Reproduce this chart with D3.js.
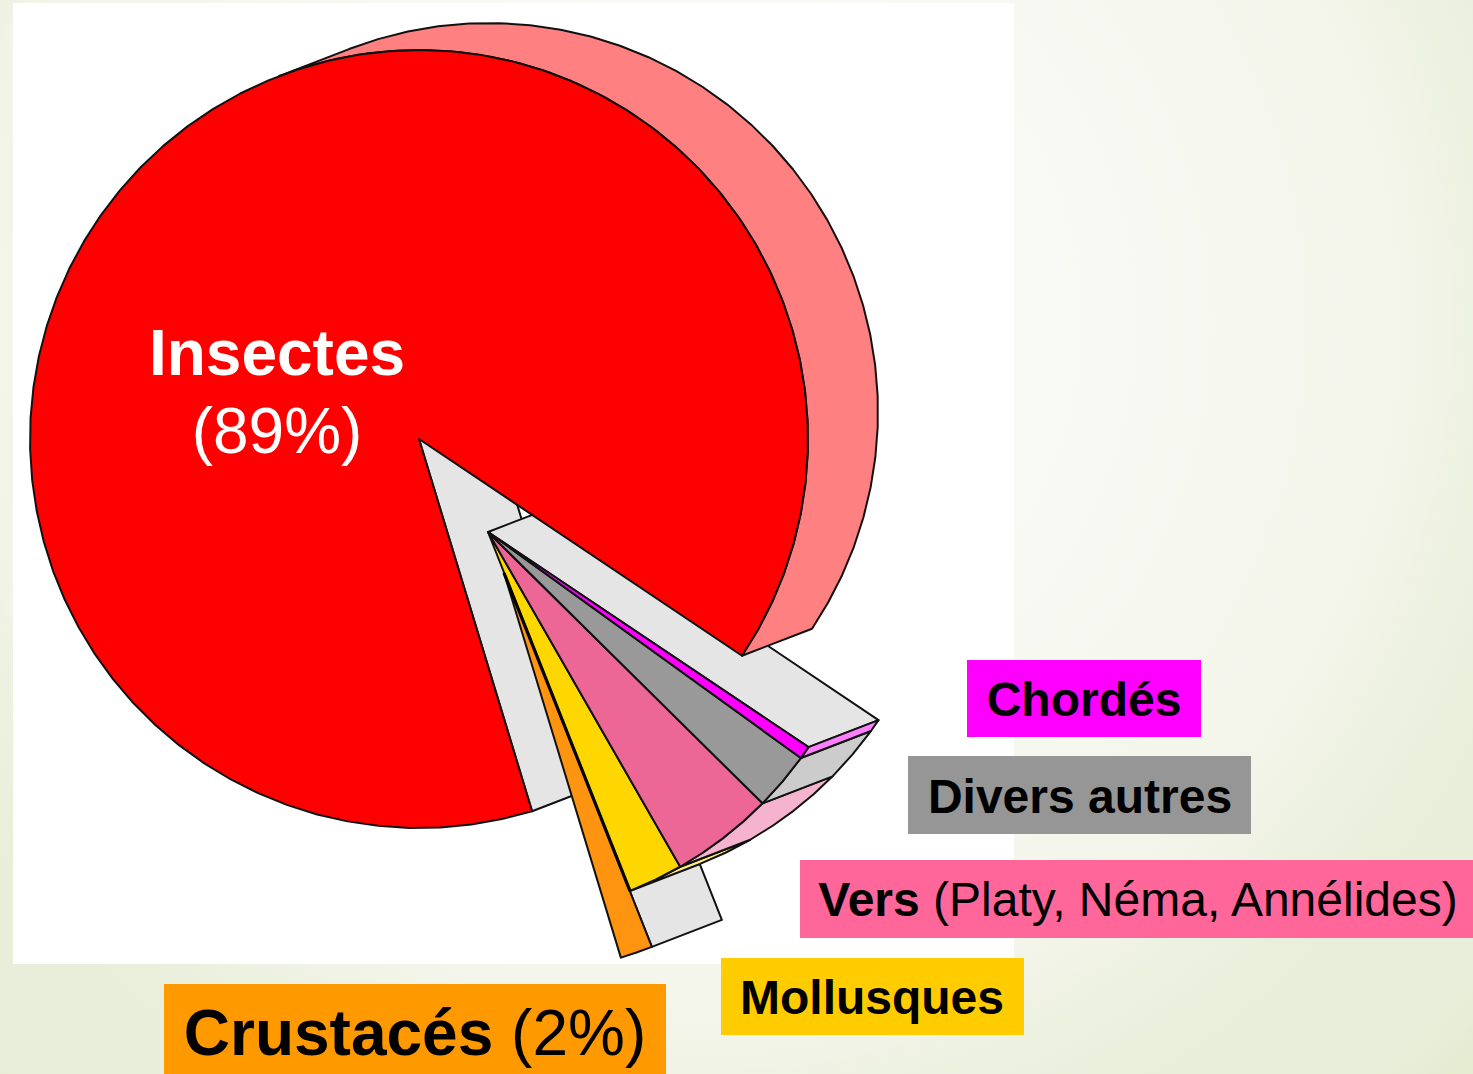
<!DOCTYPE html>
<html>
<head>
<meta charset="utf-8">
<script src="https://cdn.jsdelivr.net/npm/d3@7"></script>
<style>
  html, body { margin: 0; padding: 0; background: #eef2e2; }
  svg { display: block; }
  text { font-family: "Liberation Sans", Arial, sans-serif; }
</style>
</head>
<body>
<svg id="chart" width="1473" height="1074"></svg>
<script>
// values (percent of the pie)
const groups = ["Insectes", "Chordés", "Divers autres", "Vers", "Mollusques", "Crustacés"];
const shares = [89.1, 0.55, 2.45, 4.3, 2.3, 1.3];
const faceColors = ["#ff0000", "#ff00ff", "#999999", "#ec6696", "#ffd700", "#ff9410"];
const wallColors = ["#ff8080", "#ff80ff", "#cccccc", "#f6b3cd", "#ffeb80", "#ffc987"];

const width = 1473, height = 1074;
const svg = d3.select("#chart");

// page background
const defs = svg.append("defs");
const bg = defs.append("radialGradient").attr("id", "bg")
  .attr("gradientUnits", "userSpaceOnUse")
  .attr("cx", 700).attr("cy", 320).attr("r", 1100);
bg.append("stop").attr("offset", "30%").attr("stop-color", "#f9faf5");
bg.append("stop").attr("offset", "64%").attr("stop-color", "#f3f5ea");
bg.append("stop").attr("offset", "72%").attr("stop-color", "#edf1e0");
bg.append("stop").attr("offset", "80%").attr("stop-color", "#e9eeda");
bg.append("stop").attr("offset", "92%").attr("stop-color", "#e9eeda");
bg.append("stop").attr("offset", "100%").attr("stop-color", "#e2eacc");
svg.append("rect").attr("width", width).attr("height", height).attr("fill", "url(#bg)");
svg.append("rect").attr("x", 13).attr("y", 3).attr("width", 1001).attr("height", 961).attr("fill", "#fff");

// pie geometry
const radius = 389;
const groupRadius = 386;
const crustRadius = 402;
const depth = [70, -27];
const centers = {
  main: [419, 439],
  group: [488, 532],
  crust: [504, 573]
};
const startDeg = 163.1;

const pie = d3.pie().sort(null)
  .startAngle(startDeg * Math.PI / 180)
  .endAngle((startDeg + 360) * Math.PI / 180);
const slices = pie(shares).map((d, i) => ({
  ...d,
  name: groups[i],
  face: faceColors[i],
  wall: wallColors[i],
  c: i === 0 ? centers.main : i === 5 ? centers.crust : centers.group,
  r: i === 0 ? radius : i === 5 ? crustRadius : groupRadius
}));

const line = d3.line();
const pt = (c, r, a) => [c[0] + r * Math.sin(a), c[1] - r * Math.cos(a)];
const shift = p => [p[0] + depth[0], p[1] + depth[1]];

function arcPts(s, a0, a1) {
  const n = Math.max(1, Math.ceil((a1 - a0) / 0.08));
  return d3.range(n + 1).map(k => pt(s.c, s.r, a0 + (a1 - a0) * k / n));
}

function drawPoly(points, fill) {
  svg.append("path")
    .attr("d", line(points) + "Z")
    .attr("fill", fill)
    .attr("stroke", "#111")
    .attr("stroke-width", 2)
    .attr("stroke-linejoin", "round");
}

// flat side wall along one cut of a slice
function cutWall(s, a) {
  const rim = pt(s.c, s.r, a);
  drawPoly([s.c, rim, shift(rim), shift(s.c)], "#e5e5e5");
}

// only the part of the outer wall facing the viewer
function outerWall(s) {
  const limit = Math.atan2(depth[0], -depth[1]) + Math.PI / 2; // silhouette angle
  let a0 = s.startAngle, a1 = s.endAngle;
  if (a0 > limit && a1 > limit + Math.PI) a0 = Math.max(a0, limit + Math.PI);
  else a1 = Math.min(a1, limit);
  if (a1 <= a0) return;
  const front = arcPts(s, a0, a1);
  drawPoly(front.concat(front.map(shift).reverse()), s.wall);
}

function face(s) {
  drawPoly([s.c].concat(arcPts(s, s.startAngle, s.endAngle)), s.face);
}

const [insects, chordes, divers, vers, mollusques, crustaces] = slices;

// back to front
cutWall(crustaces, crustaces.startAngle);
cutWall(insects, insects.startAngle);
cutWall(chordes, chordes.startAngle);
outerWall(insects);
face(insects);
face(crustaces);
[mollusques, vers, divers, chordes].forEach(outerWall);
[mollusques, vers, divers, chordes].forEach(face);

// the orange and yellow cuts nearly coincide, so the outline reads heavier there
svg.append("path")
  .attr("d", line([crustaces.c, pt(mollusques.c, mollusques.r, mollusques.endAngle)]))
  .attr("stroke", "#000")
  .attr("stroke-width", 3.2);

// labels on coloured boxes
const labelRows = [
  { box: [967, 660, 234, 77], fill: "#ff00ff", x: 1084, y: 716, size: 48, bold: "Chordés", rest: "" },
  { box: [908, 756, 343, 78], fill: "#969696", x: 1080, y: 813, size: 48, bold: "Divers autres", rest: "" },
  { box: [800, 860, 673, 78], fill: "#ff6699", x: 1138, y: 916, size: 48, bold: "Vers", rest: " (Platy, Néma, Annélides)" },
  { box: [721, 958, 303, 77], fill: "#ffcc00", x: 872, y: 1014, size: 48, bold: "Mollusques", rest: "" },
  { box: [164, 984, 502, 90], fill: "#ff9900", x: 415, y: 1055, size: 64, bold: "Crustacés", rest: " (2%)" }
];

labelRows.forEach(d => {
  svg.append("rect")
    .attr("x", d.box[0]).attr("y", d.box[1])
    .attr("width", d.box[2]).attr("height", d.box[3])
    .attr("fill", d.fill);
  const t = svg.append("text")
    .attr("x", d.x).attr("y", d.y)
    .attr("text-anchor", "middle")
    .attr("font-size", d.size)
    .attr("fill", "#000");
  t.append("tspan").attr("font-weight", "bold").text(d.bold);
  if (d.rest) t.append("tspan").text(d.rest);
});

svg.append("text").attr("x", 277).attr("y", 375)
  .attr("text-anchor", "middle").attr("font-size", 64).attr("font-weight", "bold")
  .attr("fill", "#fff").text("Insectes");
svg.append("text").attr("x", 277).attr("y", 453)
  .attr("text-anchor", "middle").attr("font-size", 64)
  .attr("fill", "#fff").text("(89%)");
</script>
</body>
</html>
